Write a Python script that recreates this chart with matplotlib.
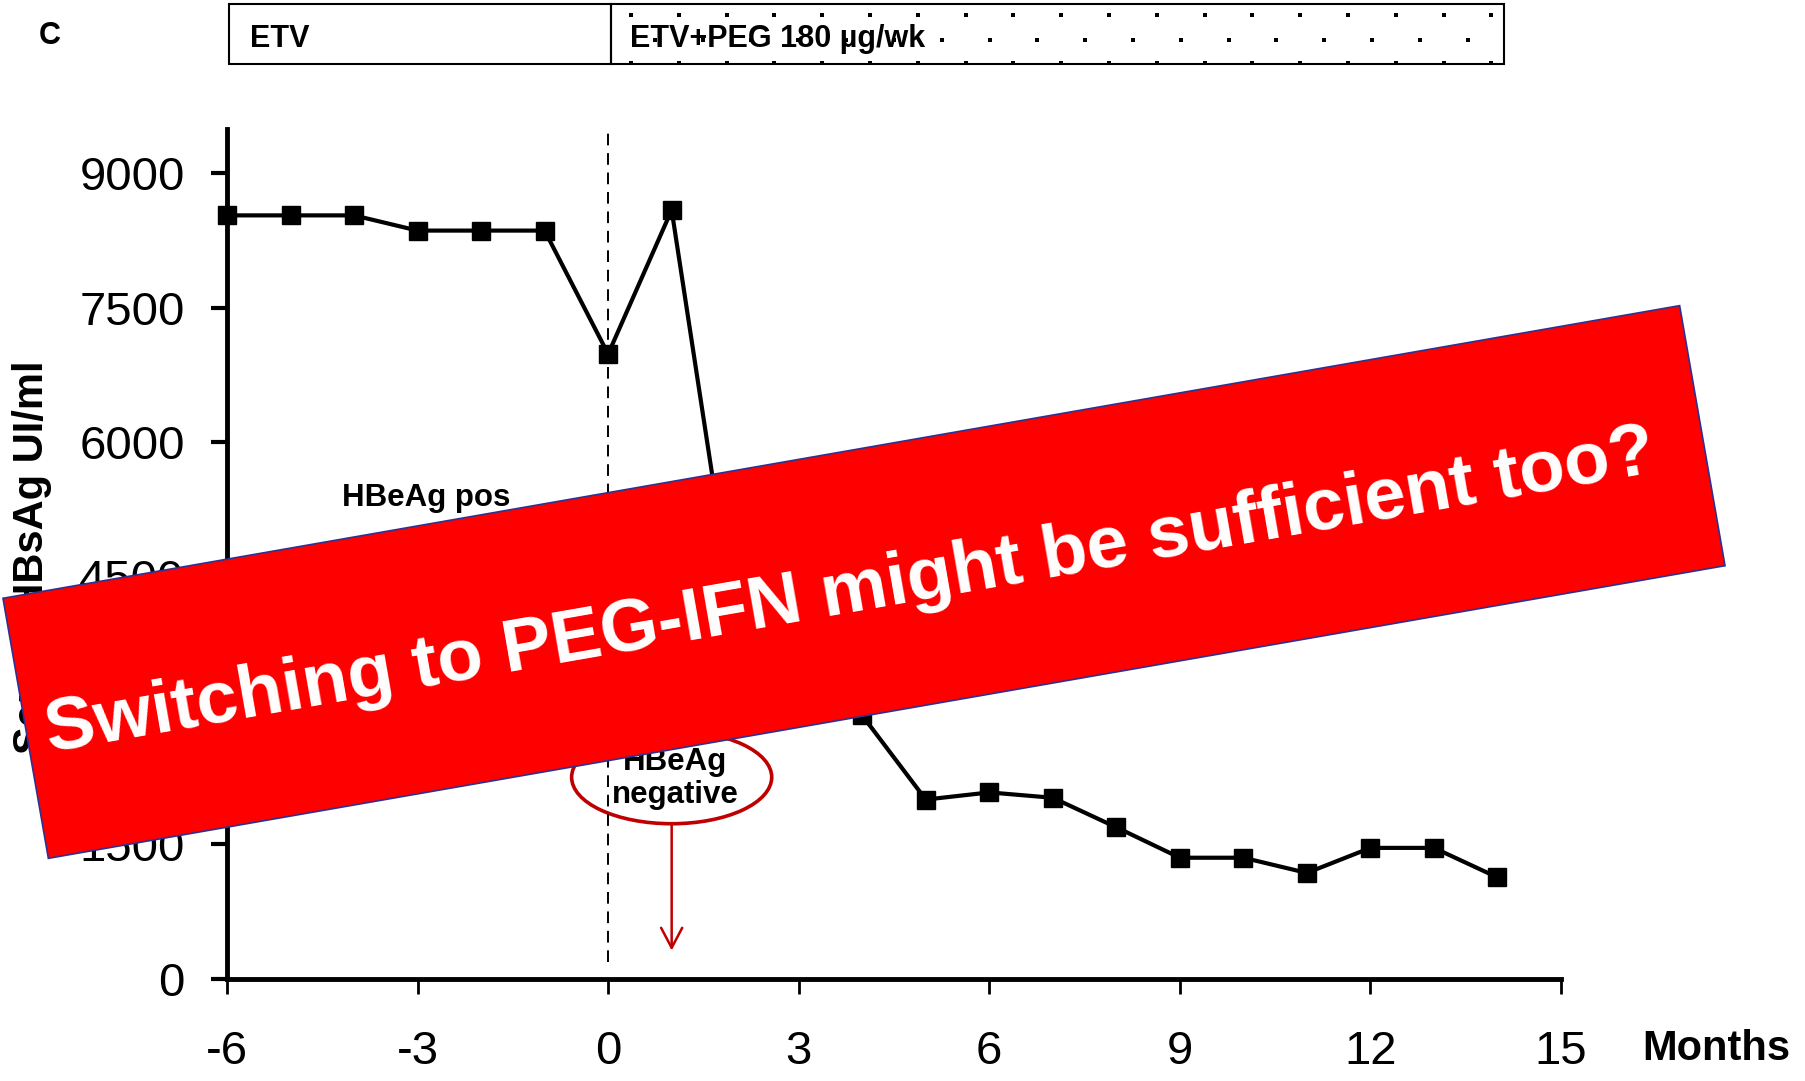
import numpy as np
import matplotlib
matplotlib.use('Agg')
import matplotlib.pyplot as plt
from matplotlib.patches import Ellipse, Polygon, Rectangle

plt.rcParams['font.family'] = ['Liberation Sans', 'DejaVu Sans']

# serum HBsAg (UI/ml) per month, switch to ETV+PEG at month 0
months = [-6, -5, -4, -3, -2, -1, 0, 1, 2, 3, 4, 5, 6, 7, 8, 9, 10, 11, 12, 13, 14]
hbsag = [8530, 8530, 8530, 8360, 8360, 8360, 6980, 8590, 3950, 3400, 2940,
         2000, 2080, 2020, 1690, 1350, 1350, 1180, 1460, 1460, 1130]

x_ticks = [-6, -3, 0, 3, 6, 9, 12, 15]
x_tick_labels = ['-6', '-3', '0', '3', '6', '9', '12', '15']
y_ticks = [0, 1500, 3000, 4500, 6000, 7500, 9000]

W, H = 1806, 1081
fig = plt.figure(figsize=(W / 100, H / 100), dpi=100)

# main plot, placed in pixel terms
ax = fig.add_axes([227 / W, (H - 978.5) / H, (1561 - 227) / W, (978.5 - 128.6) / H])
ax.plot(months, hbsag, color='black', lw=3.0, marker='s', ms=12.5,
        clip_on=False, zorder=5)
ax.set_xlim(-6, 15)
ax.set_ylim(0, 9500)
ax.set_xticks(x_ticks)
ax.set_xticklabels(x_tick_labels)
ax.set_yticks(y_ticks)
for s in ['top', 'right']:
    ax.spines[s].set_visible(False)
ax.spines['left'].set_linewidth(3.5)
ax.spines['bottom'].set_linewidth(3.5)
ax.tick_params(axis='y', direction='out', length=11.5, width=3, pad=19, labelsize=34)
ax.tick_params(axis='x', direction='out', length=11, width=2, pad=26, labelsize=34)

# start of PEG
ax.plot([0, 0], [180, 9500], color='black', lw=1.4, dashes=(6, 4), clip_on=False)

ax.text(-4.19, 5285, 'HBeAg pos', ha='left', va='baseline', fontsize=22.5,
        fontweight='bold')

# HBeAg seroconversion marker
red = '#C00000'
ax.add_patch(Ellipse((1.0, 2250), width=3.15, height=1040, fill=False, ec=red, lw=2.6))
ax.text(1.05, 2332, 'HBeAg', ha='center', va='baseline', fontsize=22.5, fontweight='bold')
ax.text(1.05, 1963, 'negative', ha='center', va='baseline', fontsize=22.5,
        fontweight='bold')
ax.annotate('', xy=(1.0, 313), xytext=(1.0, 1730),
            arrowprops=dict(arrowstyle='->,head_length=0.72,head_width=0.38',
                            color=red, lw=1.8, shrinkA=0, shrinkB=0,
                            mutation_scale=20))

fig.text(43 / W, 1 - 557 / H, 'Serum HBsAg UI/ml', rotation=90,
         rotation_mode='anchor', ha='center', va='baseline', fontsize=30,
         fontweight='bold')

# overlay in pixel coords: treatment bar and banner
ov = fig.add_axes([0, 0, 1, 1], zorder=10)
ov.set_xlim(0, W)
ov.set_ylim(H, 0)
ov.axis('off')
ov.patch.set_alpha(0)

ov.add_patch(Rectangle((229, 4), 382, 60, fill=False, ec='black', lw=1.5))
ov.add_patch(Rectangle((611, 4), 893, 60, fill=False, ec='black', lw=1.5))
dot_x = np.arange(631, 1495, 47.8)
mid_x = np.arange(655, 1470, 47.8)
for yy, xs in [(15, dot_x), (40, mid_x), (63, dot_x)]:
    ov.scatter(xs, np.full(len(xs), yy), marker='s', s=9, c='black', linewidths=0)
ov.text(49.5, 36, 'C', ha='center', va='center', fontsize=22, fontweight='bold')
ov.text(250, 47, 'ETV', ha='left', va='baseline', fontsize=22, fontweight='bold')
ov.text(630, 47, 'ETV+PEG 180 µg/wk', ha='left', va='baseline', fontsize=22,
        fontweight='bold')
ov.text(1642, 1060, 'Months', ha='left', va='baseline', fontsize=30, fontweight='bold')

ang = np.deg2rad(9.9)
u = np.array([np.cos(ang), -np.sin(ang)])
p = np.array([np.sin(ang), np.cos(ang)])
c = np.array([864, 582])
hl, ht = 851, 132
corners = [c - hl * u - ht * p, c + hl * u - ht * p, c + hl * u + ht * p, c - hl * u + ht * p]
ov.add_patch(Polygon(corners, closed=True, fc='#FF0000', ec='#2E3192', lw=1.2))
anchor = c - 15 * u + 28 * p
ov.text(anchor[0], anchor[1], 'Switching to PEG-IFN might be sufficient too?',
        rotation=9.9, rotation_mode='anchor', ha='center', va='baseline',
        color='white', fontsize=53.7, fontweight='bold')

fig.savefig('out.png', dpi=100)
